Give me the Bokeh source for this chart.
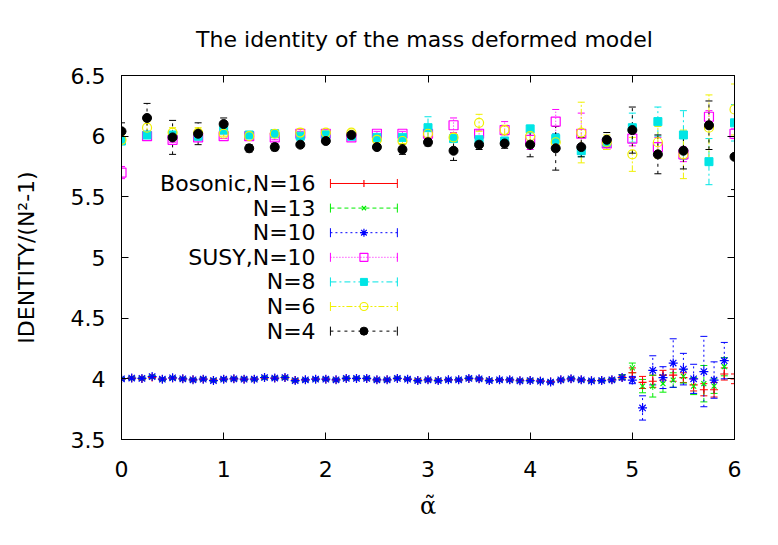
from bokeh.plotting import figure
from bokeh.models import ColumnDataSource, Whisker, TeeHead, FixedTicker, LinearAxis, Range1d
from bokeh.embed import file_html
from bokeh.resources import INLINE
from bokeh.core.properties import value

# ---------------- data ----------------
alpha_top = [0.0, 0.25, 0.5, 0.75, 1.0, 1.25, 1.5, 1.75, 2.0, 2.25, 2.5, 2.75, 3.0,
             3.25, 3.5, 3.75, 4.0, 4.25, 4.5, 4.75, 5.0, 5.25, 5.5, 5.75, 6.0]

susy10 = [5.70, 6.00, 5.97, 5.99, 6.00, 6.00, 5.99, 6.02, 6.02, 5.99, 6.02, 6.02, 6.02,
          6.09, 6.02, 6.05, 5.97, 6.12, 6.02, 5.94, 5.98, 5.91, 5.85, 6.16, 6.02]
susy10_err = [0.05, 0.02, 0.02, 0.02, 0.02, 0.02, 0.02, 0.02, 0.02, 0.02, 0.02, 0.02, 0.03,
              0.06, 0.03, 0.07, 0.08, 0.10, 0.17, 0.05, 0.06, 0.08, 0.06, 0.05, 0.04]
n8 = [5.96, 6.01, 6.01, 6.00, 6.05, 6.01, 6.02, 6.00, 6.01, 6.00, 5.99, 5.99, 6.07,
      5.98, 5.97, 5.96, 6.06, 5.98, 5.88, 5.95, 6.07, 6.12, 6.01, 5.79, 6.11]
n8_err = [0.03, 0.02, 0.02, 0.03, 0.03, 0.02, 0.03, 0.02, 0.02, 0.02, 0.02, 0.02, 0.09,
          0.03, 0.03, 0.03, 0.03, 0.04, 0.05, 0.04, 0.12, 0.12, 0.20, 0.19, 0.15]
n6 = [5.97, 6.07, 6.03, 6.03, 6.02, 6.00, 6.02, 6.03, 6.03, 6.03, 5.97, 5.96, 6.02,
      5.99, 6.11, 6.05, 6.00, 5.95, 6.03, 5.95, 5.85, 5.95, 5.85, 6.07, 6.22]
n6_err = [0.03, 0.05, 0.04, 0.04, 0.02, 0.02, 0.03, 0.03, 0.02, 0.02, 0.02, 0.02, 0.03,
          0.03, 0.07, 0.04, 0.04, 0.05, 0.25, 0.06, 0.14, 0.13, 0.20, 0.27, 0.21]
n4 = [6.04, 6.15, 5.99, 6.02, 6.10, 5.90, 5.91, 5.93, 5.96, 6.01, 5.91, 5.89, 5.95,
      5.88, 5.93, 5.94, 5.93, 5.90, 5.91, 5.97, 6.05, 5.85, 5.88, 6.09, 5.83]
n4_err = [0.07, 0.12, 0.14, 0.09, 0.05, 0.03, 0.03, 0.02, 0.02, 0.02, 0.02, 0.04, 0.03,
          0.08, 0.04, 0.04, 0.10, 0.18, 0.08, 0.06, 0.19, 0.16, 0.15, 0.20, 0.27]

alpha_low = [0.0, 0.1, 0.2, 0.3, 0.4, 0.5, 0.6, 0.7, 0.8, 0.9,
             1.0, 1.1, 1.2, 1.3, 1.4, 1.5, 1.6, 1.7, 1.8, 1.9,
             2.0, 2.1, 2.2, 2.3, 2.4, 2.5, 2.6, 2.7, 2.8, 2.9,
             3.0, 3.1, 3.2, 3.3, 3.4, 3.5, 3.6, 3.7, 3.8, 3.9,
             4.0, 4.1, 4.2, 4.3, 4.4, 4.5, 4.6, 4.7, 4.8, 4.9,
             5.0, 5.1, 5.2, 5.3, 5.4, 5.5, 5.6, 5.7, 5.8, 5.9, 6.0]

bos16 = [4.000, 4.004, 4.001, 4.012, 3.998, 4.005, 4.000, 3.994, 3.997, 3.990,
         3.998, 4.001, 3.996, 3.998, 4.008, 4.004, 4.009, 3.990, 3.993, 3.998,
         3.996, 3.993, 4.002, 4.002, 4.001, 3.993, 3.994, 4.002, 3.996, 3.989,
         3.993, 3.988, 3.993, 3.992, 4.001, 3.999, 3.988, 3.993, 3.991, 3.987,
         3.988, 3.984, 3.978, 3.992, 3.999, 3.992, 3.986, 3.988, 3.993, 4.008,
         4.05, 3.97, 3.98, 4.03, 4.03, 4.01, 3.95, 3.91, 3.91, 4.04, 4.00]
bos16_err = [0.008, 0.008, 0.008, 0.008, 0.008, 0.008, 0.008, 0.008, 0.008, 0.008,
             0.008, 0.008, 0.008, 0.008, 0.008, 0.008, 0.008, 0.008, 0.008, 0.008,
             0.008, 0.008, 0.008, 0.008, 0.008, 0.008, 0.008, 0.008, 0.008, 0.008,
             0.008, 0.008, 0.008, 0.008, 0.008, 0.008, 0.008, 0.008, 0.008, 0.008,
             0.008, 0.008, 0.008, 0.008, 0.008, 0.008, 0.008, 0.008, 0.010, 0.012,
             0.04, 0.05, 0.05, 0.04, 0.05, 0.04, 0.05, 0.05, 0.06, 0.05, 0.04]
n13 = [4.001, 4.005, 4.003, 4.017, 3.996, 4.007, 3.999, 3.991, 3.998, 3.987,
       3.996, 4.000, 3.998, 3.996, 4.010, 4.006, 4.010, 3.987, 3.991, 3.996,
       3.998, 3.991, 4.003, 4.004, 4.003, 3.991, 3.992, 4.004, 3.997, 3.986,
       3.991, 3.987, 3.991, 3.993, 4.003, 4.000, 3.987, 3.991, 3.992, 3.985,
       3.987, 3.982, 3.975, 3.991, 4.001, 3.991, 3.985, 3.987, 3.991, 4.015,
       4.09, 3.94, 3.94, 3.96, 3.99, 4.02, 3.94, 3.96, 3.94, 4.10]
n13_err = [0.010, 0.010, 0.010, 0.010, 0.010, 0.010, 0.010, 0.010, 0.010, 0.010,
           0.010, 0.010, 0.010, 0.010, 0.010, 0.010, 0.010, 0.010, 0.010, 0.010,
           0.010, 0.010, 0.010, 0.010, 0.010, 0.010, 0.010, 0.010, 0.010, 0.010,
           0.010, 0.010, 0.010, 0.010, 0.010, 0.010, 0.010, 0.010, 0.010, 0.010,
           0.010, 0.010, 0.010, 0.010, 0.010, 0.010, 0.010, 0.010, 0.012, 0.020,
           0.04, 0.055, 0.09, 0.07, 0.06, 0.055, 0.07, 0.15, 0.06, 0.075]
n10 = [4.000, 4.006, 4.003, 4.019, 3.997, 4.008, 4.000, 3.992, 3.997, 3.986,
       3.997, 4.000, 3.997, 3.997, 4.011, 4.006, 4.011, 3.986, 3.992, 3.997,
       3.997, 3.992, 4.003, 4.003, 4.003, 3.992, 3.992, 4.003, 3.997, 3.986,
       3.992, 3.986, 3.992, 3.992, 4.003, 4.000, 3.986, 3.992, 3.992, 3.984,
       3.986, 3.981, 3.973, 3.992, 4.000, 3.992, 3.984, 3.986, 3.992, 4.011,
       3.99, 3.76, 4.07, 4.01, 4.13, 4.08, 4.00, 4.06, 3.99, 4.15]
n10_err = [0.012, 0.012, 0.012, 0.012, 0.012, 0.012, 0.012, 0.012, 0.012, 0.012,
           0.012, 0.012, 0.012, 0.012, 0.012, 0.012, 0.012, 0.012, 0.012, 0.012,
           0.012, 0.012, 0.012, 0.012, 0.012, 0.012, 0.012, 0.012, 0.012, 0.012,
           0.012, 0.012, 0.012, 0.012, 0.012, 0.012, 0.012, 0.012, 0.012, 0.012,
           0.012, 0.012, 0.012, 0.012, 0.012, 0.012, 0.012, 0.012, 0.014, 0.020,
           0.03, 0.10, 0.12, 0.09, 0.20, 0.13, 0.12, 0.29, 0.15, 0.15]

x_ticks = [0, 1, 2, 3, 4, 5, 6]
x_tick_labels = ["0", "1", "2", "3", "4", "5", "6"]
y_ticks = [3.5, 4.0, 4.5, 5.0, 5.5, 6.0, 6.5]
y_tick_labels = ["3.5", "4", "4.5", "5", "5.5", "6", "6.5"]

legend_labels = ["Bosonic,N=16", "N=13", "N=10", "SUSY,N=10", "N=8", "N=6", "N=4"]

# ---------------- styles ----------------
FONT = "DejaVu Sans"
# (x, y, err, color, line_dash, marker, marker_size, filled)
series = [
    (alpha_low, bos16, bos16_err, "#ff0000", "solid", "cross", 8, False),
    (alpha_low[:60], n13, n13_err, "#00ee00", "4 3", "x", 7, False),
    (alpha_low[:60], n10, n10_err, "#0000ff", "2 3", "asterisk", 9, False),
    (alpha_top, susy10, susy10_err, "#ff00ff", "1 2", "square", 9, False),
    (alpha_top, n8, n8_err, "#00e5e5", "6 3 2 3", "square", 8, True),
    (alpha_top, n6, n6_err, "#f0f000", "6 2 2 2 2 2", "circle", 9, False),
    (alpha_top, n4, n4_err, "#000000", "3 4", "circle", 9, True),
]

# legend layout (data units)
LEG_TEXT_X = 1.90
LEG_X0 = 2.045
LEG_X1 = 2.70
LEG_XM = 2.373
LEG_Y0 = 5.61
LEG_DY = 0.2028

p = figure(width=770, height=537, x_range=Range1d(0, 6), y_range=Range1d(3.5, 6.5),
           output_backend="svg", toolbar_location=None,
           min_border_left=121, min_border_right=36, min_border_top=75, min_border_bottom=98,
           title="The identity of the mass deformed  model")
p.title.text_font = FONT
p.title.text_font_size = "22px"
p.title.text_font_style = "normal"
p.title.text_color = "black"
p.title.align = "center"
p.title.vertical_align = "top"
p.title.standoff = 44
p.xgrid.visible = False
p.ygrid.visible = False
p.outline_line_color = "black"
p.outline_line_width = 1
p.background_fill_color = "white"
p.border_fill_color = "white"

xax = p.below[0]
yax = p.left[0]


def style_axis(ax, ticks, labels):
    ax.ticker = FixedTicker(ticks=ticks)
    ax.major_label_overrides = {t: l for t, l in zip(ticks, labels)}
    ax.major_tick_in = 7
    ax.major_tick_out = 0
    ax.minor_tick_in = 0
    ax.minor_tick_out = 0
    ax.axis_line_color = "black"
    ax.major_tick_line_color = "black"
    ax.major_label_text_font = FONT
    ax.major_label_text_color = "black"
    ax.major_label_text_font_size = "22px"


style_axis(xax, x_ticks, x_tick_labels)
style_axis(yax, y_ticks, y_tick_labels)
xax.major_label_standoff = 21
yax.major_label_standoff = 16

top_ax = LinearAxis()
style_axis(top_ax, x_ticks, [""] * len(x_ticks))
top_ax.major_label_standoff = 0
p.add_layout(top_ax, "above")
right_ax = LinearAxis()
style_axis(right_ax, y_ticks, [""] * len(y_ticks))
right_ax.major_label_standoff = 0
p.add_layout(right_ax, "right")

xax.axis_label = "\u03b1\u0303"
xax.axis_label_text_font = "DejaVu Serif"
xax.axis_label_text_font_size = "24px"
xax.axis_label_text_font_style = "normal"
xax.axis_label_text_color = "black"
xax.axis_label_standoff = 12

yax.axis_label = "IDENTITY/(N\u00b2-1)"
yax.axis_label_text_font = FONT
yax.axis_label_text_font_size = "22px"
yax.axis_label_text_font_style = "normal"
yax.axis_label_text_color = "black"
yax.axis_label_standoff = 29


def draw_marker(src, xf, yf, color, marker, size, filled):
    if filled:
        p.scatter(xf, yf, source=src, marker=marker, size=size,
                  fill_color=color, line_color=color, line_width=1)
    else:
        p.scatter(xf, yf, source=src, marker=marker, size=size,
                  fill_color=None, line_color=color, line_width=1.2)


for i, (xs, ys, es, color, dash, marker, size, filled) in enumerate(series):
    src = ColumnDataSource(dict(x=xs, y=ys,
                                lo=[y - e for y, e in zip(ys, es)],
                                hi=[y + e for y, e in zip(ys, es)]))
    w = Whisker(source=src, base="x", lower="lo", upper="hi", dimension="height",
                line_color=color, line_width=1, line_dash=dash,
                upper_head=TeeHead(size=7, line_color=color, line_width=1),
                lower_head=TeeHead(size=7, line_color=color, line_width=1))
    p.add_layout(w)
    draw_marker(src, "x", "y", color, marker, size, filled)

    # legend entry
    ly = LEG_Y0 - i * LEG_DY
    lsrc = ColumnDataSource(dict(y=[ly], lo=[LEG_X0], hi=[LEG_X1], xm=[LEG_XM]))
    lw = Whisker(source=lsrc, base="y", lower="lo", upper="hi", dimension="width",
                 line_color=color, line_width=1, line_dash=dash,
                 upper_head=TeeHead(size=9, line_color=color, line_width=1),
                 lower_head=TeeHead(size=9, line_color=color, line_width=1))
    p.add_layout(lw)
    draw_marker(lsrc, "xm", "y", color, marker, size - 1, filled)

p.text(x=[LEG_TEXT_X] * len(legend_labels),
       y=[LEG_Y0 - i * LEG_DY for i in range(len(legend_labels))],
       text=legend_labels, text_align="right", text_baseline="middle",
       text_font=value(FONT), text_font_size="22px", text_color="black")

open("out.html", "w").write(file_html(p, INLINE))
